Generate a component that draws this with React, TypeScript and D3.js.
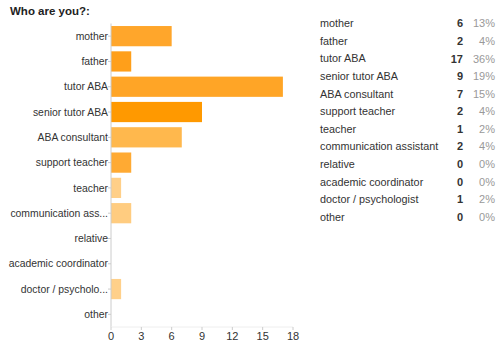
import React from "react";
import * as d3 from "d3";

const title = "Who are you?:";
const categories = [
  "mother",
  "father",
  "tutor ABA",
  "senior tutor ABA",
  "ABA consultant",
  "support teacher",
  "teacher",
  "communication assistant",
  "relative",
  "academic coordinator",
  "doctor / psychologist",
  "other",
];
const axisLabels = [
  "mother",
  "father",
  "tutor ABA",
  "senior tutor ABA",
  "ABA consultant",
  "support teacher",
  "teacher",
  "communication ass...",
  "relative",
  "academic coordinator",
  "doctor / psycholo...",
  "other",
];
const counts = [6, 2, 17, 9, 7, 2, 1, 2, 0, 0, 1, 0];
const percents = ["13%", "4%", "36%", "19%", "15%", "4%", "2%", "4%", "0%", "0%", "2%", "0%"];
const xTicks = [0, 3, 6, 9, 12, 15, 18];

const barColors = [
  "#ffa62b",
  "#ff9f1a",
  "#ffa526",
  "#ff9900",
  "#ffb84d",
  "#ffaa33",
  "#ffcf88",
  "#ffcc80",
  "#ffcc80",
  "#ffcc80",
  "#ffd08a",
  "#ffd08a",
];

export default function App() {
  const W = 496;
  const H = 345;
  const x = d3.scaleLinear().domain([0, 18]).range([111, 293]);
  const y = d3
    .scaleBand<string>()
    .domain(categories)
    .range([23.5, 327])
    .paddingInner(0.2)
    .paddingOuter(0.1);
  const rowY = d3
    .scalePoint<string>()
    .domain(categories)
    .range([23.5, 217]);
  const font = "'Liberation Sans', Arial, sans-serif";
  const axisColor = "#cccccc";

  return (
    <svg
      width={W}
      height={H}
      style={{ position: "absolute", left: 0, top: 0, background: "#fff" }}
      fontFamily={font}
    >
      <text x={10} y={15} fontSize={11.5} fontWeight="bold" fill="#222">
        {title}
      </text>

      {categories.map((c, i) => (
        <rect
          key={c}
          x={x(0)}
          y={y(c)}
          width={x(counts[i]) - x(0)}
          height={y.bandwidth()}
          fill={barColors[i]}
        />
      ))}

      {/* y axis */}
      <line x1={x(0)} x2={x(0)} y1={y.range()[0]} y2={327} stroke={axisColor} strokeWidth={1} />
      {categories.map((c, i) => {
        const cy = (y(c) as number) + y.bandwidth() / 2;
        return (
          <g key={"yl" + c}>
            <line x1={x(0) - 3} x2={x(0)} y1={cy} y2={cy} stroke={axisColor} />
            <text
              x={x(0) - 3}
              y={cy}
              dy="0.35em"
              textAnchor="end"
              fontSize={10.4}
              fill="#333"
            >
              {axisLabels[i]}
            </text>
          </g>
        );
      })}

      {/* x axis */}
      <line x1={x(0)} x2={x(18)} y1={327} y2={327} stroke="#eeeeee" />
      {xTicks.map((t) => (
        <g key={"xt" + t}>
          <line x1={x(t)} x2={x(t)} y1={327} y2={330} stroke={axisColor} />
          <text x={x(t)} y={340} textAnchor="middle" fontSize={11} fill="#333">
            {t}
          </text>
        </g>
      ))}

      {/* table */}
      {categories.map((c, i) => {
        const ry = rowY(c) as number;
        return (
          <g key={"row" + c}>
            <text x={320} y={ry} dy="0.35em" fontSize={10.8} fill="#333">
              {c}
            </text>
            <text
              x={463}
              y={ry}
              dy="0.35em"
              fontSize={11}
              fontWeight="bold"
              textAnchor="end"
              fill="#333"
            >
              {counts[i]}
            </text>
            <text x={495} y={ry} dy="0.35em" fontSize={11} textAnchor="end" fill="#999">
              {percents[i]}
            </text>
          </g>
        );
      })}
    </svg>
  );
}
